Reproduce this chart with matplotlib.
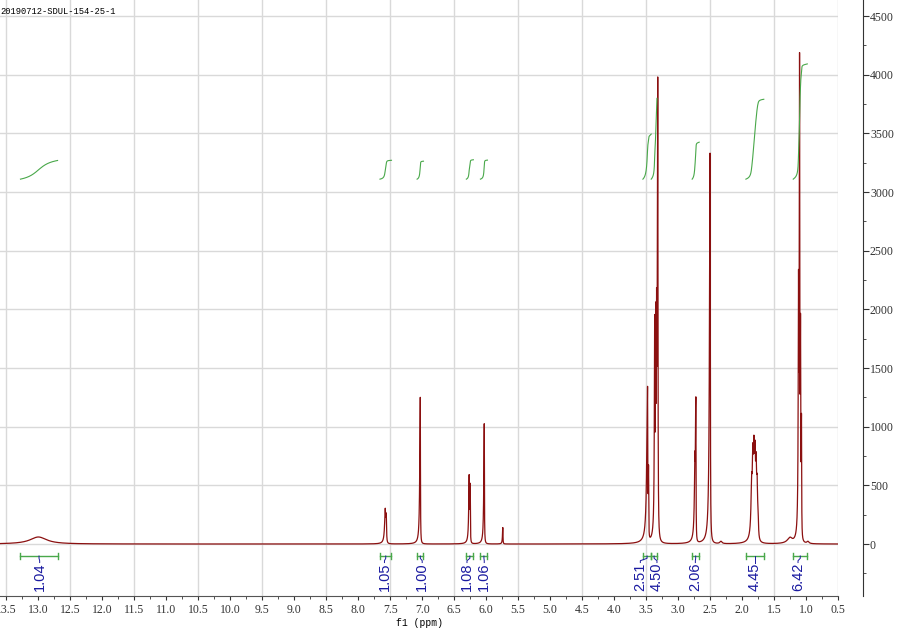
import numpy as np
import matplotlib.pyplot as plt
from matplotlib.ticker import MultipleLocator, FormatStrFormatter

title = '20190712-SDUL-154-25-1'

# peak list: position (ppm), height,
# half width on the low-ppm side and on the high-ppm side (ppm)
peak_ppm = [13.00, 7.578, 7.562, 7.03, 6.266, 6.250, 6.03, 5.74,
            3.477, 3.462, 3.366, 3.350, 3.336, 3.318,
            2.737, 2.722, 2.50, 2.33,
            1.850, 1.832, 1.815, 1.798, 1.781, 1.765, 1.750,
            1.25, 1.117, 1.101, 1.086, 1.071, 0.97]
peak_height = [60, 215, 245, 1250, 490, 500, 1025, 140,
               1240, 600, 1600, 1550, 1450, 3920,
               400, 1230, 3330, 20,
               330, 520, 570, 550, 500, 400, 200,
               45, 1780, 3860, 1660, 1000, 18]
width_right = [0.16, 0.005, 0.005, 0.003, 0.003, 0.003, 0.003, 0.003,
               0.003, 0.003, 0.003, 0.003, 0.003, 0.004,
               0.003, 0.003, 0.004, 0.02,
               0.007, 0.007, 0.007, 0.007, 0.007, 0.007, 0.007,
               0.04, 0.003, 0.003, 0.003, 0.003, 0.02]
width_left = [0.16, 0.012, 0.012, 0.009, 0.008, 0.008, 0.008, 0.006,
              0.015, 0.006, 0.006, 0.006, 0.006, 0.008,
              0.01, 0.01, 0.011, 0.02,
              0.012, 0.012, 0.012, 0.012, 0.012, 0.012, 0.012,
              0.05, 0.006, 0.006, 0.006, 0.006, 0.02]

# integrations
int_start = [13.28, 7.66, 7.08, 6.31, 6.09, 3.55, 3.42, 2.78, 1.94, 1.20]
int_end = [12.70, 7.48, 6.98, 6.20, 5.98, 3.42, 3.33, 2.67, 1.66, 0.98]
int_value = [1.04, 1.05, 1.00, 1.08, 1.06, 2.51, 4.50, 2.06, 4.45, 6.42]
label_ppm = [12.98, 7.59, 7.00, 6.30, 6.03, 3.59, 3.33, 2.73, 1.80, 1.125]

ppm = np.linspace(13.6, 0.5, 60000)
spec = np.zeros_like(ppm)
for p, h, wr, wl in zip(peak_ppm, peak_height, width_right, width_left):
    w = np.where(ppm > p, wl, wr)
    spec += h * w**2 / ((ppm - p)**2 + w**2)

fig = plt.figure(figsize=(9, 6.28), dpi=100)
ax = fig.add_axes([0, 32/628, 838/900, 596/628])

# grid (vertical lines every 1 ppm on the .5 values)
for g in np.arange(0.5, 14.0, 1.0):
    ax.axvline(g, color='#d9d9d9', lw=1, zorder=0)
for g in np.arange(0, 4501, 500):
    ax.axhline(g, color='#d9d9d9', lw=1, zorder=0)

ax.plot(ppm, spec, color='#8b1010', lw=0.9, zorder=3)

base = 3110
scale = 153
green = '#49a84a'
blue = '#1a1aa0'
for s, e, v, lp in zip(int_start, int_end, int_value, label_ppm):
    m = (ppm <= s) & (ppm >= e)
    cum = np.cumsum(spec[m])
    cum = cum / cum[-1]
    ax.plot(ppm[m], base + v * scale * cum, color=green, lw=0.8, zorder=4)
    # bracket under the baseline
    ax.plot([s, e], [-102, -102], color=green, lw=1, zorder=4)
    ax.plot([s, s], [-130, -74], color=green, lw=1, zorder=4)
    ax.plot([e, e], [-130, -74], color=green, lw=1, zorder=4)
    c = (s + e) / 2
    ax.plot([c, c, lp, lp], [-102, -122, -142, -158], color=blue, lw=0.7, zorder=4)
    ax.text(lp, -160, '%.2f' % v, rotation=90, ha='center', va='top',
            color=blue, fontsize=10.5, family='Liberation Sans', clip_on=True)

ax.set_xlim(13.6, 0.5)
ax.set_ylim(-443, 4637)

ax.xaxis.set_major_locator(MultipleLocator(0.5))
ax.xaxis.set_minor_locator(MultipleLocator(0.25))
ax.xaxis.set_major_formatter(FormatStrFormatter('%.1f'))
ax.yaxis.set_major_locator(MultipleLocator(500))
ax.yaxis.set_minor_locator(MultipleLocator(250))
ax.yaxis.tick_right()

for sp in ['top', 'left']:
    ax.spines[sp].set_visible(False)
ax.spines['right'].set_position(('outward', 18))
ax.spines['right'].set_color('#333333')
ax.spines['bottom'].set_color('#555555')

ax.tick_params(axis='x', which='major', length=3, pad=3, labelsize=8.5, colors='#333333')
ax.tick_params(axis='x', which='minor', length=2, colors='#333333')
ax.tick_params(axis='y', which='major', length=4, pad=1, labelsize=8.5, colors='#333333')
ax.tick_params(axis='y', which='minor', length=2.5, colors='#333333')
for lab in ax.get_xticklabels() + ax.get_yticklabels():
    lab.set_family('Liberation Serif')

ax.set_xlabel('f1 (ppm)', fontsize=7, family='Liberation Mono', labelpad=1)

fig.text(0.0, 1 - 11/628, title, fontsize=6.3, family='Liberation Mono', va='center', ha='left')

fig.savefig('out.png', dpi=100)
